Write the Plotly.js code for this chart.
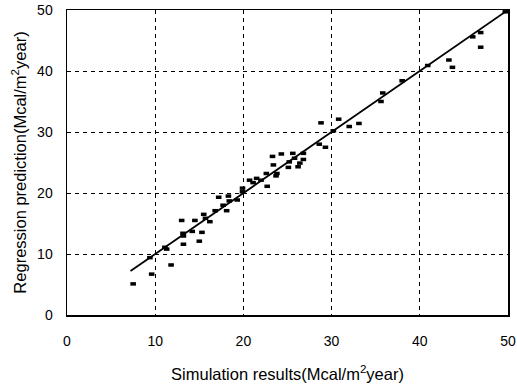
<!DOCTYPE html>
<html>
<head>
<meta charset="utf-8">
<script src="https://cdn.plot.ly/plotly-3.0.1.min.js"></script>
<style>html,body{margin:0;padding:0;background:#fff;}#chart{width:517px;height:388px;}</style>
</head>
<body>
<div id="chart"></div>
<script>
// Simulation results (x) and regression predictions (y)
const simulated = [7.5, 9.6, 9.4, 11.1, 11.3, 11.8, 13.0, 13.15, 13.2, 13.2, 14.2, 14.5, 15.0, 15.3, 15.5, 15.7, 16.2, 16.8, 17.2, 17.7, 18.1, 18.3, 18.4, 19.3, 19.9, 19.9, 20.7, 21.1, 21.5, 22.0, 22.6, 22.7, 23.3, 23.4, 23.7, 23.8, 24.3, 25.1, 25.2, 25.6, 25.8, 26.2, 26.4, 26.8, 26.8, 28.6, 29.3, 28.8, 30.8, 30.2, 32.0, 33.1, 35.8, 35.6, 38.0, 40.9, 43.3, 43.7, 46.0, 46.9, 46.9, 49.7];
const predicted = [5.1, 6.7, 9.4, 11.1, 10.8, 8.2, 15.5, 13.4, 12.95, 11.6, 13.7, 15.5, 12.1, 13.55, 16.5, 15.85, 15.3, 17.1, 19.3, 18.0, 17.1, 19.5, 18.7, 18.85, 20.8, 20.2, 22.1, 21.7, 22.4, 22.1, 23.2, 21.1, 26.0, 24.6, 22.8, 23.2, 26.4, 24.2, 25.1, 26.5, 25.7, 24.3, 24.9, 25.5, 26.5, 28.0, 27.5, 31.5, 32.1, 30.2, 30.9, 31.4, 36.4, 35.0, 38.4, 40.9, 41.8, 40.6, 45.6, 46.3, 43.9, 49.7];
// Regression line end points
const fitX = [7.2, 50];
const fitY = [7.2, 50];
const tickVals = [0, 10, 20, 30, 40, 50];

const font = 'Liberation Sans, Arial, sans-serif';
const axisCommon = {
  range: [0, 50],
  tickvals: tickVals,
  showgrid: true,
  gridcolor: '#000',
  gridwidth: 1,
  griddash: '4px,4px',
  zeroline: false,
  showline: true,
  linecolor: '#000',
  linewidth: 1.5,
  mirror: true,
  ticks: 'outside',
  tickcolor: 'rgba(0,0,0,0)',
  tickfont: {family: font, size: 14, color: '#000'}
};

const data = [
  {x: simulated, y: predicted, mode: 'markers', type: 'scatter',
   marker: {symbol: 'line-ew', size: 4, color: '#000', line: {color: '#000', width: 3.5}}},
  {x: fitX, y: fitY, mode: 'lines', type: 'scatter', line: {color: '#000', width: 1.8}}
];

const layout = {
  width: 517, height: 388,
  margin: {l: 67, r: 9, t: 10, b: 73},
  paper_bgcolor: '#fff', plot_bgcolor: '#fff',
  showlegend: false,
  xaxis: Object.assign({}, axisCommon, {
    ticklen: 13,
    title: {text: 'Simulation results(Mcal/m<sup>2</sup>year)', font: {family: font, size: 16.5, color: '#000'}, standoff: 20}
  }),
  yaxis: Object.assign({}, axisCommon, {
    ticklen: 10,
    title: {text: 'Regression prediction(Mcal/m<sup>2</sup>year)', font: {family: font, size: 16.5, color: '#000'}, standoff: 6}
  })
};

Plotly.newPlot('chart', data, layout, {displayModeBar: false, staticPlot: true});
</script>
</body>
</html>
